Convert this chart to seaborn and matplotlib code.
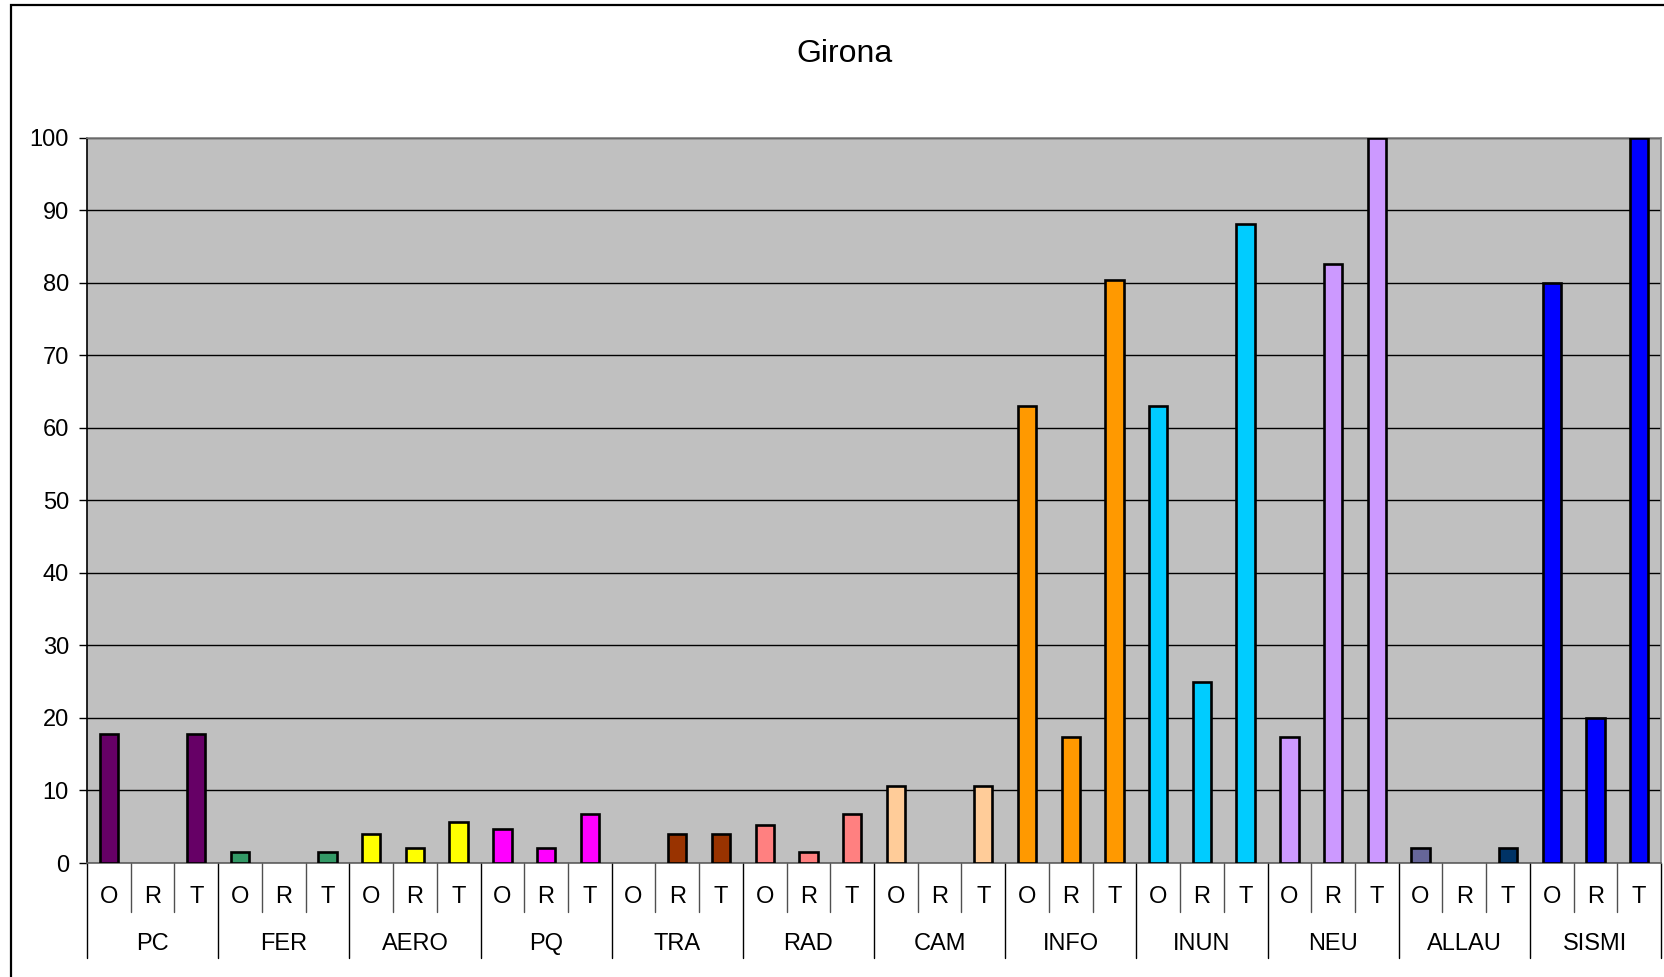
import matplotlib
matplotlib.use("Agg")
import matplotlib.pyplot as plt
import matplotlib.patches as mpatches
import seaborn as sns
import pandas as pd

groups = ["PC", "FER", "AERO", "PQ", "TRA", "RAD", "CAM", "INFO", "INUN", "NEU", "ALLAU", "SISMI"]
subs = ["O", "R", "T"]
values_O = [17.8, 1.5, 4.0, 4.7, 0.0, 5.2, 10.65, 63.0, 63.0, 17.3, 2.0, 80.0]
values_R = [0.0, 0.0, 2.0, 2.0, 4.0, 1.5, 0.0, 17.3, 25.0, 82.6, 0.0, 20.0]
values_T = [17.8, 1.5, 5.7, 6.7, 4.0, 6.7, 10.65, 80.4, 88.1, 100.0, 2.0, 100.0]
colors_O = ["#660066", "#339966", "#FFFF00", "#FF00FF", "#993300", "#FF8080", "#FFCC99",
            "#FF9900", "#00CCFF", "#CC99FF", "#666699", "#0000FF"]
colors_R = ["#660066", "#339966", "#FFFF00", "#FF00FF", "#993300", "#FF8080", "#FFCC99",
            "#FF9900", "#00CCFF", "#CC99FF", "#666699", "#0000FF"]
colors_T = ["#660066", "#339966", "#FFFF00", "#FF00FF", "#993300", "#FF8080", "#FFCC99",
            "#FF9900", "#00CCFF", "#CC99FF", "#003366", "#0000FF"]
yticks = list(range(0, 101, 10))
title = "Girona"

rows = []
palette = []
for i, g in enumerate(groups):
    for s, vals, cols in zip(subs, [values_O, values_R, values_T], [colors_O, colors_R, colors_T]):
        rows.append({"slot": f"{g}-{s}", "group": g, "sub": s, "value": vals[i]})
        palette.append(cols[i])
df = pd.DataFrame(rows)

sns.set_theme(style="white")
plt.rcParams["font.family"] = ["Liberation Sans", "DejaVu Sans"]

W, H = 1664, 977
fig = plt.figure(figsize=(W / 100, H / 100), dpi=100)
left, right, top, bottom = 87, 1661, 137.5, 863
ax = fig.add_axes([left / W, 1 - bottom / H, (right - left) / W, (bottom - top) / H])
ax.set_facecolor("#C0C0C0")

sns.barplot(data=df, x="slot", y="value", hue="slot", palette=palette, legend=False,
            saturation=1, edgecolor="black", linewidth=1.9, width=0.42, ax=ax, zorder=3)
for p in ax.patches:
    if p.get_height() == 0:
        p.set_linewidth(0)

ax.set_ylim(0, 100)
ax.set_xlim(-0.5, len(df) - 0.5)
ax.set_yticks(yticks)
ax.set_yticklabels([str(t) for t in yticks], fontsize=17, color="black")
ax.yaxis.grid(True, color="black", linewidth=1.0, zorder=1)
ax.set_axisbelow(True)
ax.tick_params(axis="y", direction="out", length=6, width=1, color="black", pad=7, left=True)
ax.tick_params(axis="x", bottom=False, labelbottom=False)
ax.set_xlabel("")
ax.set_ylabel("")

for sp in ["top", "right"]:
    ax.spines[sp].set_color("#808080")
    ax.spines[sp].set_linewidth(1.2)
ax.spines["left"].set_color("black")
ax.spines["left"].set_linewidth(1.2)
ax.spines["bottom"].set_color("#606060")
ax.spines["bottom"].set_linewidth(1.2)

ph = bottom - top
sub_y = -(897 - bottom) / ph
grp_y = -(944 - bottom) / ph
sub_line = -(912 - bottom) / ph
grp_line = -(958 - bottom) / ph
xt = ax.get_xaxis_transform()

for k, r in df.iterrows():
    ax.text(k, sub_y, r["sub"], transform=xt, ha="center", va="center", fontsize=17, color="black")
for i, g in enumerate(groups):
    ax.text(i * 3 + 1, grp_y, g, transform=xt, ha="center", va="center", fontsize=17, color="black")
for k in range(len(df) + 1):
    xpos = k - 0.5
    if k % 3 == 0:
        ax.plot([xpos, xpos], [0, grp_line], transform=xt, color="black", linewidth=1.0, clip_on=False)
    else:
        ax.plot([xpos, xpos], [0, sub_line], transform=xt, color="#505050", linewidth=1.0, clip_on=False)

fig.text(845 / W, 1 - 54 / H, title, ha="center", va="center", fontsize=23, color="black")

border = mpatches.Rectangle((11 / W, -0.1), 1.2, 1 - 5 / H + 0.1, transform=fig.transFigure,
                            fill=False, edgecolor="black", linewidth=1.6, clip_on=False)
fig.patches.append(border)

fig.savefig("out.png", dpi=100, facecolor="white")
